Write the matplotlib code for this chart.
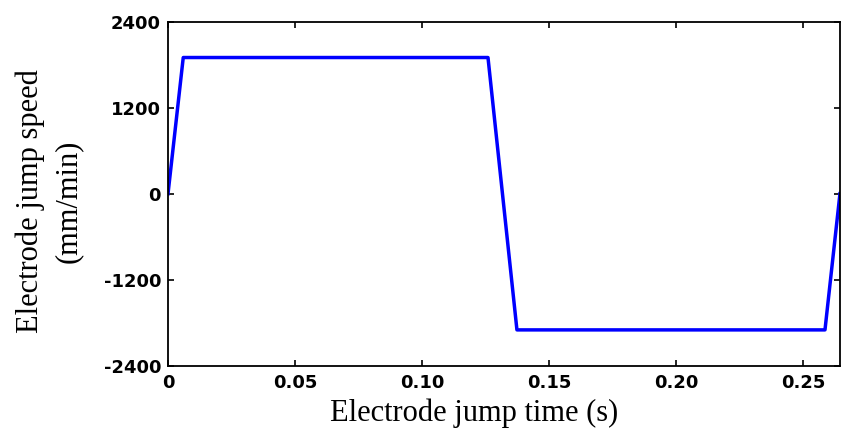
import matplotlib
matplotlib.use("Agg")
import matplotlib.pyplot as plt

# electrode jump speed profile
time_s = [0.0, 0.006, 0.126, 0.1374, 0.2587, 0.2646]
speed = [0, 1900, 1900, -1900, -1900, 0]

x_ticks = [0, 0.05, 0.10, 0.15, 0.20, 0.25]
x_labels = ['0', '0.05', '0.10', '0.15', '0.20', '0.25']
y_ticks = [-2400, -1200, 0, 1200, 2400]
y_labels = ['-2400', '-1200', '0', '1200', '2400']

plt.rcParams['axes.unicode_minus'] = False

fig = plt.figure(figsize=(8.43, 4.38), dpi=100)
ax = fig.add_axes([0.1993, 0.165, 0.7971, 0.7855])

ax.plot(time_s, speed, color='#0000ff', linewidth=2.5)

ax.set_xlim(0, 0.2646)
ax.set_ylim(-2400, 2400)
ax.set_xticks(x_ticks)
ax.set_xticklabels(x_labels)
ax.set_yticks(y_ticks)
ax.set_yticklabels(y_labels)

for lbl in ax.get_xticklabels() + ax.get_yticklabels():
    lbl.set_family('DejaVu Sans')
    lbl.set_fontweight('bold')
    lbl.set_fontsize(13)

ax.tick_params(direction='in', length=4, width=1.2, top=True, right=True)
ax.tick_params(axis='x', pad=6)
ax.tick_params(axis='y', pad=5)
for s in ax.spines.values():
    s.set_linewidth(1.3)

# axis titles placed in figure coordinates
fig.text(0.563, 0.057, 'Electrode jump time (s)', family='Liberation Serif',
         fontsize=22, ha='center', va='center')
fig.text(0.058, 0.54, 'Electrode jump speed\n(mm/min)', family='Liberation Serif',
         fontsize=22, ha='center', va='center', rotation=90,
         linespacing=1.4, multialignment='center')

fig.savefig('out.png', dpi=100)
